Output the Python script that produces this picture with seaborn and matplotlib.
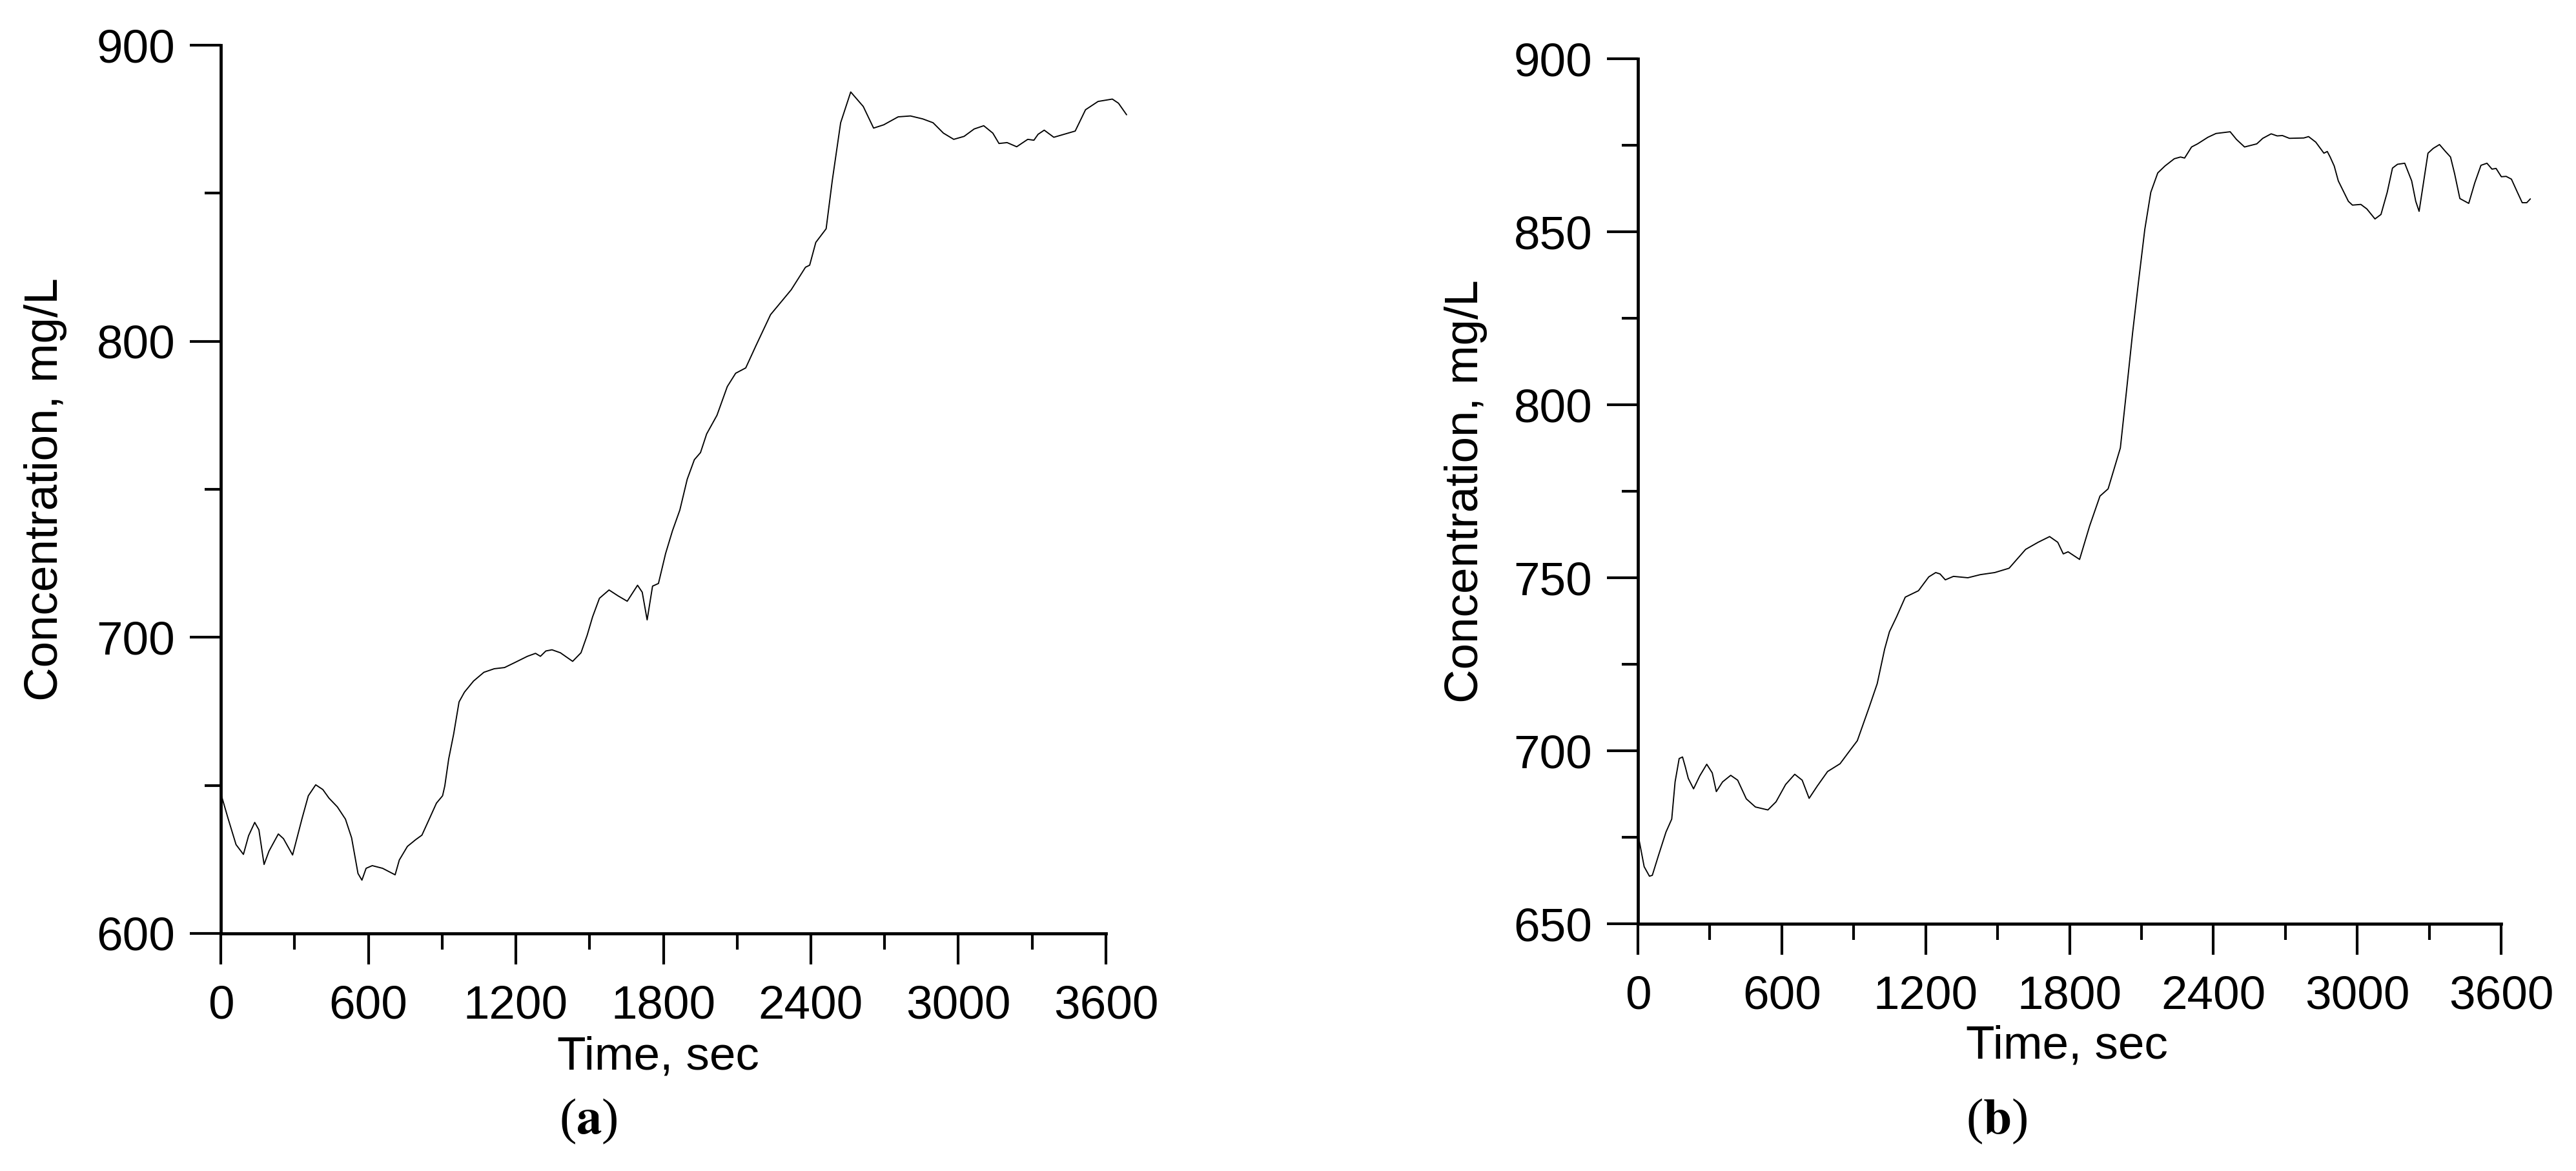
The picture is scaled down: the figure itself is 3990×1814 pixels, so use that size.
import matplotlib
matplotlib.use("Agg")
import matplotlib.pyplot as plt
from matplotlib.ticker import MultipleLocator
import seaborn as sns
import pandas as pd

# ---- data ----
time_a = [0, 29, 62, 92, 113, 138, 155, 176, 196, 234, 255, 292, 331, 356, 386, 415, 440, 474, 507, 532,
          558, 574, 591, 616, 658, 709, 726, 759, 793, 818, 843, 877, 902, 911, 927, 947, 969, 991, 1028, 1070,
          1112, 1154, 1196, 1247, 1280, 1300, 1322, 1347, 1381, 1431, 1465, 1490, 1512, 1540, 1579, 1616, 1653,
          1695, 1714, 1734, 1756, 1780, 1809, 1837, 1867, 1897, 1926, 1951, 1976, 2018, 2060, 2094, 2135, 2177,
          2236, 2320, 2378, 2395, 2420, 2462, 2487, 2521, 2562, 2613, 2655, 2696, 2755, 2805, 2855, 2897, 2939,
          2981, 3023, 3064, 3103, 3140, 3165, 3198, 3237, 3282, 3307, 3324, 3349, 3388, 3417, 3475, 3517, 3568,
          3626, 3651, 3684]
conc_a = [647.3, 639, 630, 626.7, 633, 637.5, 635, 623.3, 627.8, 633.6, 632, 626.5, 639, 646.5, 650.2, 648.6,
          645.7, 642.75, 638.6, 632.3, 620.25, 618, 622, 622.9, 622, 619.8, 624.8, 629.4, 631.7, 633.2, 637.75,
          644, 646.5, 649.8, 659, 667.3, 678.2, 681.5, 685.25, 688.2, 689.4, 689.8, 691.5, 693.6, 694.6, 693.6,
          695.4, 695.8, 694.8, 691.9, 694.8, 700.7, 706.9, 713.2, 716, 714, 712.2, 717.6, 715.25, 705.9, 717.3,
          718.2, 728.3, 736, 743, 753.4, 760, 762.4, 768.7, 775, 784.7, 789.2, 791, 798.6, 809, 817.4, 825, 825.7,
          833.4, 838, 854.3, 873.8, 884.2, 879.3, 872, 873.1, 875.8, 876.1, 875.1, 873.8, 870.3, 868.2, 869.2,
          871.7, 872.8, 870.3, 866.8, 867.1, 865.7, 868.2, 867.9, 869.9, 871.3, 868.9, 869.6, 871, 878.2, 881,
          881.8, 880.4, 876.5]

time_b = [0, 26, 48, 60, 86, 117, 141, 155, 172, 186, 198, 210, 232, 258, 287, 310, 327, 353, 387, 416,
          452, 490, 542, 576, 616, 654, 685, 714, 748, 791, 843, 886, 915, 963, 998, 1029, 1049, 1079, 1115, 1170,
          1213, 1242, 1260, 1282, 1316, 1376, 1428, 1488, 1548, 1617, 1669, 1717, 1751, 1774, 1794, 1842, 1884,
          1927, 1961, 2012, 2037, 2063, 2088, 2114, 2139, 2168, 2198, 2237, 2263, 2280, 2309, 2334, 2377, 2411,
          2470, 2496, 2530, 2581, 2606, 2641, 2666, 2688, 2717, 2777, 2797, 2827, 2861, 2875, 2887, 2904, 2921,
          2963, 2980, 3015, 3040, 3074, 3099, 3125, 3147, 3168, 3198, 3227, 3244, 3258, 3275, 3295, 3317, 3343,
          3368, 3389, 3406, 3428, 3465, 3490, 3516, 3541, 3562, 3579, 3601, 3621, 3643, 3668, 3688, 3707, 3722]
conc_b = [676, 666.5, 663.75, 664, 669.8, 676.5, 680.25, 691, 697.75, 698.2, 695.25, 692, 689, 692.75, 696.1,
          693.6, 688.2, 691, 692.9, 691.5, 686.1, 683.75, 682.9, 685.25, 690.25, 693.2, 691.5, 686.25, 689.8, 694,
          696.25, 700.25, 702.9, 712.3, 719.4, 729.4, 734.4, 738.75, 744.4, 746.25, 750.25, 751.5, 751.1, 749.4,
          750.4, 750, 750.9, 751.5, 752.75, 758.2, 760.25, 761.9, 760.25, 756.9, 757.5, 755.3, 765, 773.6, 775.7,
          787.5, 803.6, 820.7, 835.7, 850.7, 861.4, 867, 869, 871.1, 871.6, 871.3, 874.5, 875.4, 877.3, 878.4,
          878.9, 876.7, 874.5, 875.4, 877, 878.3, 877.7, 877.8, 877, 877.1, 877.5, 875.9, 872.7, 873.2, 871.6,
          869, 864.7, 858.8, 857.7, 857.9, 856.6, 853.7, 855, 861.4, 868.4, 869.5, 869.8, 864.7, 858.8, 855.9,
          863.6, 872.7, 874.1, 875.2, 873.2, 871.6, 866.8, 859.6, 858.2, 864.1, 869.2, 869.8, 868.1, 868.3, 865.9,
          866, 865.2, 861.4, 858.4, 858.4, 859.5]

x_ticks = [0, 600, 1200, 1800, 2400, 3000, 3600]
y_ticks_a = [600, 700, 800, 900]
y_ticks_b = [650, 700, 750, 800, 850, 900]
x_label = "Time, sec"
y_label = "Concentration, mg/L"
panel_labels = ["a", "b"]

# ---- style ----
sns.set_theme(style="ticks")
plt.rcParams["font.family"] = ["Liberation Sans", "DejaVu Sans"]
plt.rcParams["mathtext.fontset"] = "stix"

W, H = 3990, 1814
DPI = 300
fig = plt.figure(figsize=(W / DPI, H / DPI), dpi=DPI)
fig.patch.set_facecolor("white")

ax_a = fig.add_axes([342 / W, (H - 1446) / H, 1371 / W, (1446 - 70) / H])
ax_b = fig.add_axes([2537 / W, (H - 1431) / H, 1337 / W, (1431 - 91) / H])

df_a = pd.DataFrame({"t": time_a, "c": conc_a})
df_b = pd.DataFrame({"t": time_b, "c": conc_b})

FS = 17.5
for ax, df, yt, ylo, yminor in [(ax_a, df_a, y_ticks_a, 600, 50), (ax_b, df_b, y_ticks_b, 650, 25)]:
    sns.lineplot(data=df, x="t", y="c", ax=ax, sort=False, estimator=None,
                 color="black", linewidth=0.45, clip_on=False)
    ax.set_xlim(0, 3600)
    ax.set_ylim(ylo, 900)
    ax.set_xticks(x_ticks)
    ax.set_xticklabels([str(v) for v in x_ticks])
    ax.set_yticks(yt)
    ax.set_yticklabels([str(v) for v in yt])
    ax.xaxis.set_minor_locator(MultipleLocator(300))
    ax.yaxis.set_minor_locator(MultipleLocator(yminor))
    sns.despine(ax=ax)
    for s in ["left", "bottom"]:
        ax.spines[s].set_linewidth(1.15)
        ax.spines[s].set_color("black")
    ax.tick_params(axis="both", which="major", length=11.5, width=1.0, color="black",
                   labelsize=FS, labelcolor="black", direction="out")
    ax.tick_params(axis="both", which="minor", length=6, width=1.0, color="black", direction="out")
    ax.tick_params(axis="x", which="major", pad=7.5)
    ax.tick_params(axis="y", which="major", pad=5.5)
    ax.set_facecolor("white")
    ax.set_xlabel(x_label, fontsize=FS, color="black")
    ax.set_ylabel(y_label, fontsize=FS, color="black")
    ax.xaxis.label.set_va("center")
    ax.yaxis.label.set_va("center")
    ax.yaxis.label.set_ha("center")

ax_a.xaxis.set_label_coords(0.494, -0.1395)
ax_a.yaxis.set_label_coords(-0.198, 0.5)
ax_b.xaxis.set_label_coords(0.4966, -0.142)
ax_b.yaxis.set_label_coords(-0.1997, 0.5)

for lab, xpix in zip(panel_labels, [911, 3093]):
    fig.text(xpix / W, 1 - 1737 / H, "(" + r"$\mathbf{" + lab + "}$" + ")",
             ha="center", va="center", fontsize=19, family="Liberation Serif", color="black")

fig.savefig("out.png", dpi=DPI, facecolor="white")
